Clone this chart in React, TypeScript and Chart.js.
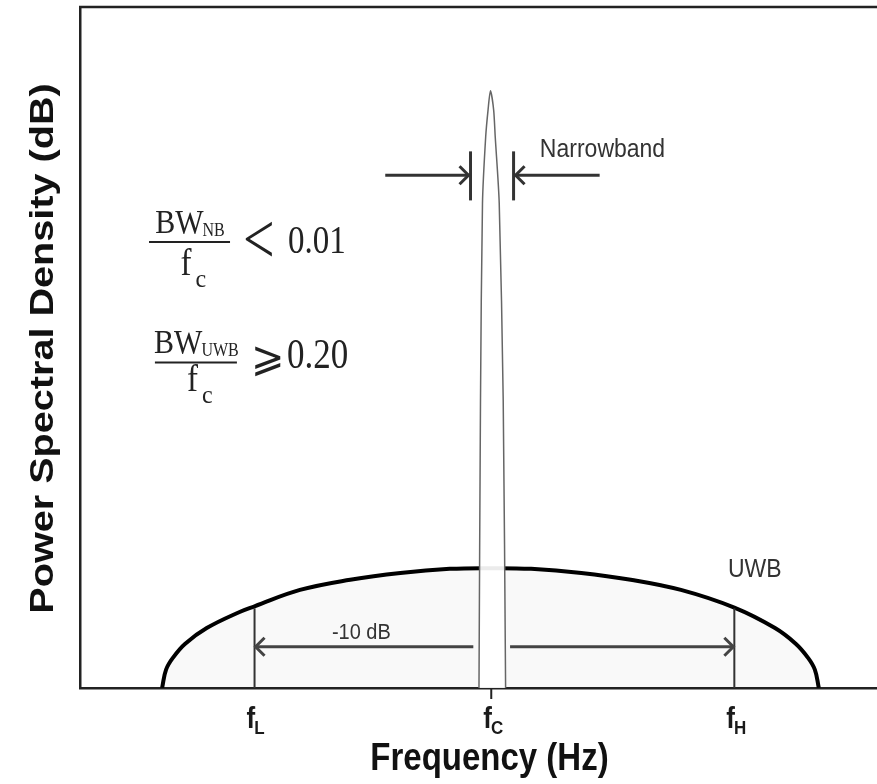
import React, { useEffect, useRef } from 'react';
import { Chart, registerables } from 'chart.js';

Chart.register(...registerables);

// Frequency axis in arbitrary units (0..100), PSD in arbitrary dB-like units (0..100)
const uwbFreq = [10.3, 10.8, 11.7, 13.2, 15.9, 20.1, 21.9, 27.6, 33.9, 40.2, 46.4, 51.5, 56.6, 62.9, 69.1, 75.4, 82.1, 87.2, 89.8, 91.3, 92.2, 92.7];
const uwbPsd = [0, 2.7, 4.5, 6.5, 8.8, 11.2, 12.0, 14.4, 15.9, 16.9, 17.5, 17.6, 17.5, 16.9, 15.9, 14.4, 11.8, 8.8, 6.5, 4.5, 2.7, 0];

const nbFreq = [50.06, 50.25, 50.5, 50.9, 51.2, 51.5, 51.9, 52.1, 52.6, 53.1, 53.4];
const nbPsd = [0, 42.3, 71.2, 80.9, 84.9, 87.7, 84.9, 80.9, 71.2, 42.3, 0];

const tickValues = [21.9, 51.6, 82.1];
const tickMain = ['f', 'f', 'f'];
const tickSub = ['L', 'C', 'H'];

const xTitle = 'Frequency (Hz)';
const yTitle = 'Power Spectral Density (dB)';

const fLow = 21.9;
const fHigh = 82.1;
const tenDbLevel = 6.06;
const edgeLevel = 11.7;
const nbArrowLevel = 75.3;
const nbLeftBar = 49.0;
const nbRightBar = 54.4;
const nbBarBottom = 71.6;
const nbBarTop = 78.8;

const X_MIN = 0;
const X_MAX = 100;
const Y_MIN = 0;
const Y_MAX = 100;

const SANS = '"Liberation Sans", Arial, Helvetica, sans-serif';
const SERIF = '"Liberation Serif", "Times New Roman", serif';

function arrowHead(ctx: CanvasRenderingContext2D, x: number, y: number, dir: number) {
  ctx.beginPath();
  ctx.moveTo(x - dir * 9, y - 9);
  ctx.lineTo(x, y);
  ctx.lineTo(x - dir * 9, y + 9);
  ctx.stroke();
}

function sText(
  ctx: CanvasRenderingContext2D,
  text: string,
  x: number,
  y: number,
  font: string,
  sy: number,
  align: CanvasTextAlign = 'left',
  baseline: CanvasTextBaseline = 'alphabetic',
) {
  ctx.save();
  ctx.translate(x, y);
  ctx.scale(1, sy);
  ctx.font = font;
  ctx.textAlign = align;
  ctx.textBaseline = baseline;
  ctx.fillText(text, 0, 0);
  ctx.restore();
}

function textWidth(ctx: CanvasRenderingContext2D, text: string, font: string) {
  ctx.save();
  ctx.font = font;
  const w = ctx.measureText(text).width;
  ctx.restore();
  return w;
}

const annotations = {
  id: 'uwbAnnotations',
  afterDatasetsDraw(chart: any) {
    const { ctx, chartArea } = chart;
    const xs = chart.scales.x;
    const ys = chart.scales.y;
    const px = (v: number) => xs.getPixelForValue(v);
    const py = (v: number) => ys.getPixelForValue(v);
    ctx.save();
    ctx.lineCap = 'butt';

    // top frame line
    ctx.strokeStyle = '#222';
    ctx.lineWidth = 2.5;
    ctx.beginPath();
    ctx.moveTo(chartArea.left - 1, chartArea.top);
    ctx.lineTo(chartArea.right + 2, chartArea.top);
    ctx.stroke();

    // fL / fH edge lines
    ctx.strokeStyle = '#333';
    ctx.lineWidth = 2;
    [fLow, fHigh].forEach((f) => {
      ctx.beginPath();
      ctx.moveTo(px(f), py(0));
      ctx.lineTo(px(f), py(edgeLevel));
      ctx.stroke();
    });

    // -10 dB arrows
    ctx.strokeStyle = '#444';
    ctx.lineWidth = 3;
    const yA = py(tenDbLevel);
    ctx.beginPath();
    ctx.moveTo(px(49.35), yA);
    ctx.lineTo(px(fLow) + 1, yA);
    ctx.stroke();
    arrowHead(ctx, px(fLow) + 1, yA, -1);
    ctx.beginPath();
    ctx.moveTo(px(53.96), yA);
    ctx.lineTo(px(fHigh) - 1, yA);
    ctx.stroke();
    arrowHead(ctx, px(fHigh) - 1, yA, 1);

    // Narrowband bars and arrows
    ctx.strokeStyle = '#333';
    ctx.lineWidth = 3;
    [nbLeftBar, nbRightBar].forEach((f) => {
      ctx.beginPath();
      ctx.moveTo(px(f), py(nbBarBottom));
      ctx.lineTo(px(f), py(nbBarTop));
      ctx.stroke();
    });
    const yN = py(nbArrowLevel);
    ctx.beginPath();
    ctx.moveTo(px(38.3), yN);
    ctx.lineTo(px(nbLeftBar) - 2, yN);
    ctx.stroke();
    arrowHead(ctx, px(nbLeftBar) - 2, yN, 1);
    ctx.beginPath();
    ctx.moveTo(px(65.2), yN);
    ctx.lineTo(px(nbRightBar) + 2, yN);
    ctx.stroke();
    arrowHead(ctx, px(nbRightBar) + 2, yN, -1);

    // fc tick mark below axis
    ctx.strokeStyle = '#222';
    ctx.lineWidth = 2;
    ctx.beginPath();
    ctx.moveTo(px(tickValues[1]), chartArea.bottom);
    ctx.lineTo(px(tickValues[1]), chartArea.bottom + 11);
    ctx.stroke();

    // in-plot labels
    ctx.fillStyle = '#333';
    sText(ctx, 'Narrowband', px(57.7), py(79.0), `23px ${SANS}`, 1.1, 'left', 'middle');
    sText(ctx, 'UWB', px(81.3), 577, `23px ${SANS}`, 1.1, 'left', 'alphabetic');
    sText(ctx, '-10 dB', px(35.3), py(8.1), `20px ${SANS}`, 1.1, 'center', 'middle');

    // tick labels f_L, f_C, f_H
    ctx.fillStyle = '#1a1a1a';
    tickValues.forEach((v, i) => {
      const x = px(v) - 8;
      const mainFont = `bold 26px ${SANS}`;
      sText(ctx, tickMain[i], x, chartArea.bottom + 40, mainFont, 1.1);
      const w = textWidth(ctx, tickMain[i], mainFont);
      sText(ctx, tickSub[i], x + w - 1, chartArea.bottom + 46, `bold 17px ${SANS}`, 1.1);
    });

    // axis titles
    ctx.fillStyle = '#111';
    sText(ctx, xTitle, (chartArea.left + chartArea.right) / 2 + 11, 770, `bold 33px ${SANS}`, 1.2, 'center', 'alphabetic');
    ctx.save();
    ctx.translate(44, (chartArea.top + chartArea.bottom) / 2 + 1);
    ctx.rotate(-Math.PI / 2);
    ctx.scale(1.2, 1);
    ctx.font = `bold 33px ${SANS}`;
    ctx.textAlign = 'center';
    ctx.textBaseline = 'middle';
    ctx.fillText(yTitle, 0, 0);
    ctx.restore();

    // formulas
    const drawFraction = (
      L: number, B: number, width: number, sub: string,
      rel: string, relFont: string, relSy: number, relX: number, relY: number,
      val: string, valFont: string, valX: number, valY: number, fY: number,
    ) => {
      ctx.strokeStyle = '#222';
      ctx.lineWidth = 2;
      ctx.beginPath();
      ctx.moveTo(L, B);
      ctx.lineTo(L + width, B);
      ctx.stroke();
      ctx.fillStyle = '#222';
      const numFont = `30px ${SERIF}`;
      const subFont = `16px ${SERIF}`;
      const wNum = textWidth(ctx, 'BW', numFont);
      const wSub = textWidth(ctx, sub, subFont);
      const start = L + (width - wNum - wSub) / 2 + 1;
      sText(ctx, 'BW', start, B - 9, numFont, 1.15);
      sText(ctx, sub, start + wNum - 1, B - 6, subFont, 1.15);
      const fFont = `33px ${SERIF}`;
      const fx = L + width / 2 - 9;
      sText(ctx, 'f', fx, B + fY, fFont, 1.12);
      sText(ctx, 'c', fx + 15, B + fY + 12, `24px ${SERIF}`, 1.05);
      sText(ctx, rel, L + width + relX, B + relY, relFont, relSy, 'left', 'middle');
      sText(ctx, val, L + width + valX, B + valY, valFont, 1.2);
    };
    drawFraction(px(8.66), py(65.5), 81, 'NB', '<', `56px ${SERIF}`, 1.3, 13, 2, '0.01', `33px ${SERIF}`, 58, 11, 33);
    drawFraction(px(9.4), py(47.8), 82, 'UWB', '⩾', `40px ${SERIF}`, 1.05, 14, -3, '0.20', `35px ${SERIF}`, 50, 6, 29);

    ctx.restore();
  },
};

export default function App() {
  const canvasRef = useRef<HTMLCanvasElement | null>(null);

  useEffect(() => {
    if (!canvasRef.current) return;
    const chart = new Chart(canvasRef.current, {
      type: 'line',
      data: {
        datasets: [
          {
            label: 'Narrowband',
            data: nbFreq.map((f, i) => ({ x: f, y: nbPsd[i] })),
            borderColor: '#666',
            borderWidth: 1.5,
            backgroundColor: 'rgba(255,255,255,0.92)',
            fill: 'origin',
            tension: 0.25,
            pointRadius: 0,
          },
          {
            label: 'UWB',
            data: uwbFreq.map((f, i) => ({ x: f, y: uwbPsd[i] })),
            borderColor: '#000',
            borderWidth: 4,
            backgroundColor: 'rgba(0,0,0,0.025)',
            fill: 'origin',
            tension: 0.4,
            pointRadius: 0,
          },
        ],
      },
      options: {
        animation: false,
        responsive: false,
        events: [],
        layout: { padding: { top: 7, right: 0, left: 0, bottom: 0 } },
        plugins: { legend: { display: false }, tooltip: { enabled: false } },
        scales: {
          x: {
            type: 'linear',
            min: X_MIN,
            max: X_MAX,
            grid: { display: false },
            border: { display: true, color: '#222', width: 2.5 },
            ticks: { display: false },
            title: { display: false, text: xTitle },
            afterFit: (scale: any) => {
              scale.height = 96;
            },
          },
          y: {
            type: 'linear',
            min: Y_MIN,
            max: Y_MAX,
            grid: { display: false },
            border: { display: true, color: '#222', width: 2.5 },
            ticks: { display: false },
            title: { display: false, text: yTitle },
            afterFit: (scale: any) => {
              scale.width = 80;
            },
          },
        },
      },
      plugins: [annotations],
    } as any);
    return () => chart.destroy();
  }, []);

  return (
    <div style={{ position: 'fixed', left: 0, top: 0, width: 877, height: 784, background: '#fff' }}>
      <canvas ref={canvasRef} width={877} height={784} style={{ display: 'block' }} />
    </div>
  );
}
